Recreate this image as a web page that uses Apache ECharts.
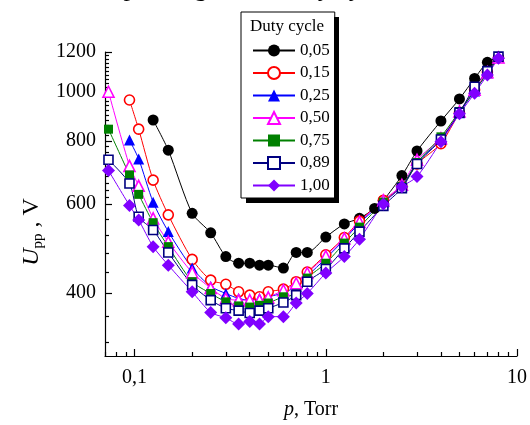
<!DOCTYPE html>
<html>
<head>
<meta charset="utf-8">
<script src="https://cdn.jsdelivr.net/npm/echarts@6/dist/echarts.min.js"></script>
<style>
  html, body { margin: 0; padding: 0; background: #fff; }
  #chart { width: 530px; height: 425px; }
</style>
</head>
<body>
<div id="chart"></div>
<script>
  // pressures, Torr
  var pBlack = [0.125, 0.15, 0.2, 0.25, 0.3, 0.35, 0.4, 0.45, 0.5, 0.6, 0.7, 0.8, 1, 1.25, 1.5, 1.8, 2, 2.5, 3, 4, 5, 6, 7, 8]
  var pLow = [0.073, 0.094, 0.105, 0.125, 0.15, 0.2, 0.25, 0.3, 0.35, 0.4, 0.45, 0.5, 0.6, 0.7, 0.8, 1, 1.25, 1.5, 2, 2.5, 3, 4, 5, 6, 7, 8]
  var pMid = [0.094, 0.105, 0.125, 0.15, 0.2, 0.25, 0.3, 0.35, 0.4, 0.45, 0.5, 0.6, 0.7, 0.8, 1, 1.25, 1.5, 2, 2.5, 3, 4, 5, 6, 7, 8]

  // U_pp, V
  var u005 = [880, 767, 575, 526, 472, 458, 458, 454, 454, 448, 481, 481, 516, 548, 562, 588, 610, 683, 764, 876, 969, 1064, 1145, 1171]
  var u015 = [964, 844, 669, 571, 466, 424, 416, 402, 396, 393, 402, 407, 421, 440, 476, 515, 555, 610, 650, 720, 790, 910, 1010, 1095, 1170]
  var u025 = [803, 737, 605, 529, 448, 412, 399, 390, 387, 390, 393, 400, 412, 432, 468, 510, 550, 605, 650, 725, 805, 910, 1005, 1090, 1170]
  var u050 = [1001, 714, 652, 562, 505, 439, 409, 390, 387, 387, 387, 392, 405, 418, 438, 473, 513, 553, 610, 655, 734, 810, 915, 1010, 1095, 1170]
  var u075 = [844, 685, 627, 551, 494, 421, 399, 384, 377, 375, 378, 382, 393, 398, 428, 458, 502, 540, 605, 650, 725, 815, 915, 1005, 1090, 1170]
  var u089 = [734, 659, 566, 533, 481, 415, 387, 373, 369, 365, 369, 373, 383, 396, 421, 446, 490, 529, 595, 645, 720, 805, 910, 1024, 1100, 1175]
  var u100 = [699, 596, 558, 494, 454, 402, 366, 357, 347, 351, 347, 359, 359, 382, 399, 438, 472, 511, 600, 649, 680, 797, 905, 994, 1081, 1166]

  var xMajor = [0.1, 1, 10]
  var xMinor = [0.07, 0.08, 0.09, 0.2, 0.3, 0.4, 0.5, 0.6, 0.7, 0.8, 0.9, 2, 3, 4, 5, 6, 7, 8, 9]
  var yMajor = [400, 600, 800, 1000, 1200]
  var yMinor = [320, 360, 440, 480, 520, 560, 620, 640, 660, 680, 700, 720, 740, 760, 780,
    820, 840, 860, 880, 900, 920, 940, 960, 980, 1020, 1040, 1060, 1080, 1100, 1120, 1140, 1160, 1180]

  var serif = 'Liberation Serif'

  function pairs (xs, ys) {
    return xs.map(function (x, i) { return [x, ys[i]] })
  }

  function line (name, xs, ys, color, symbol, size, open) {
    return {
      name: name,
      type: 'line',
      data: pairs(xs, ys),
      smooth: 0.25,
      symbol: symbol,
      symbolSize: size,
      showAllSymbol: true,
      lineStyle: { color: color, width: 1 },
      itemStyle: open
        ? { color: '#fff', borderColor: color, borderWidth: 1.6 }
        : { color: color, borderColor: color, borderWidth: 0 },
      emphasis: { disabled: true }
    }
  }

  var option = {
    animation: false,
    title: {
      text: 'Duty cycle',
      left: 287,
      top: 18,
      textAlign: 'center',
      padding: 0,
      z: 10,
      textStyle: { fontFamily: serif, fontSize: 17, fontWeight: 'normal', color: '#000' }
    },
    graphic: {
      elements: [{
        // heading cut by the top edge of the picture
        type: 'text',
        x: 99,
        y: 2,
        z: 10,
        silent: true,
        style: {
          text: 'depending on the duty cycle',
          fontFamily: serif,
          fontSize: 26,
          fill: '#000',
          verticalAlign: 'bottom'
        }
      }, {
        // legend box shadow, right edge
        type: 'rect',
        z: 10,
        silent: true,
        shape: { x: 334, y: 17, width: 5, height: 186 },
        style: { fill: '#000' }
      }, {
        // legend box shadow, bottom edge
        type: 'rect',
        z: 10,
        silent: true,
        shape: { x: 246, y: 198, width: 93, height: 5 },
        style: { fill: '#000' }
      }]
    },
    legend: {
      orient: 'vertical',
      left: 241,
      top: 12,
      padding: [30, 5, 4, 11],
      itemGap: 5.5,
      itemWidth: 42,
      itemHeight: 15,
      z: 4,
      backgroundColor: '#fff',
      borderColor: '#000',
      borderWidth: 1,
      textStyle: { fontFamily: serif, fontSize: 17, color: '#000' },
      selectedMode: false
    },
    grid: { left: 105, right: 13, top: 52, bottom: 69 },
    xAxis: [{
      type: 'log',
      min: 0.07,
      max: 10,
      name: '{i|p}, Torr',
      nameLocation: 'middle',
      nameGap: 44,
      nameTextStyle: {
        fontFamily: serif, fontSize: 20, color: '#000',
        rich: { i: { fontFamily: serif, fontSize: 20, fontStyle: 'italic', color: '#000' } }
      },
      axisLine: { lineStyle: { color: '#000', width: 1.2 } },
      axisTick: { inside: true, length: 7, customValues: xMajor, lineStyle: { color: '#000', width: 1.2 } },
      axisLabel: {
        customValues: xMajor,
        margin: 12,
        fontFamily: serif, fontSize: 20, color: '#000',
        formatter: function (v) { return String(v).replace('.', ',') }
      },
      splitLine: { show: false }
    }, {
      type: 'log',
      min: 0.07,
      max: 10,
      position: 'bottom',
      axisLine: { show: false },
      axisTick: { inside: true, length: 4, customValues: xMinor, lineStyle: { color: '#000', width: 1.2 } },
      axisLabel: { show: false },
      splitLine: { show: false }
    }],
    yAxis: [{
      type: 'log',
      min: 300,
      max: 1200,
      name: '{i|U}{sub|pp}{n| , V}',
      nameLocation: 'middle',
      nameGap: 58,
      nameRotate: 90,
      nameTextStyle: {
        fontFamily: serif, fontSize: 24, color: '#000',
        padding: [0, 56, 0, 0],
        rich: {
          i: { fontFamily: serif, fontSize: 24, fontStyle: 'italic', color: '#000' },
          sub: { fontFamily: serif, fontSize: 15, color: '#000', padding: [12, 0, 0, 0] },
          n: { fontFamily: serif, fontSize: 24, color: '#000' }
        }
      },
      axisLine: { show: true, lineStyle: { color: '#000', width: 1.2 } },
      axisTick: { inside: true, length: 7, customValues: yMajor, lineStyle: { color: '#000', width: 1.2 } },
      axisLabel: {
        customValues: yMajor,
        margin: 9,
        fontFamily: serif, fontSize: 20, color: '#000',
        formatter: function (v) { return String(Math.round(v)) }
      },
      splitLine: { show: false }
    }, {
      type: 'log',
      min: 300,
      max: 1200,
      position: 'left',
      axisLine: { show: false },
      axisTick: { show: true, inside: true, length: 4, customValues: yMinor, lineStyle: { color: '#000', width: 1.2 } },
      axisLabel: { show: false },
      splitLine: { show: false }
    }],
    series: [
      line('0,05', pBlack, u005, '#000000', 'circle', 11, false),
      line('0,15', pMid, u015, '#ff0000', 'circle', 10, true),
      line('0,25', pMid, u025, '#0000ff', 'triangle', 11, false),
      line('0,50', pLow, u050, '#ff00ff', 'triangle', 11, true),
      line('0,75', pLow, u075, '#008000', 'rect', 9, false),
      line('0,89', pLow, u089, '#000080', 'rect', 9, true),
      line('1,00', pLow, u100, '#8000ff', 'diamond', 13, false)
    ]
  }

  var chart = echarts.init(document.getElementById('chart'), null, { renderer: 'canvas' })
  chart.setOption(option)
</script>
</body>
</html>
